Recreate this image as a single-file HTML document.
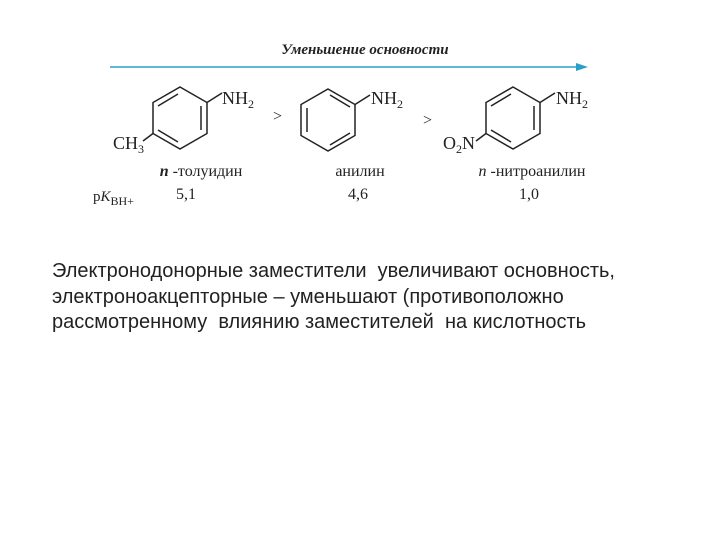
<!DOCTYPE html>
<html><head><meta charset="utf-8"><style>
html,body{margin:0;padding:0;background:#fff;width:720px;height:540px;overflow:hidden}
svg{position:absolute;left:0;top:0}
.p{position:absolute;left:52px;top:259px;font:20px "Liberation Sans",sans-serif;line-height:25.5px;color:#222;white-space:pre}
</style></head><body>
<svg width="720" height="540" viewBox="0 0 720 540" font-family="Liberation Serif, serif" fill="#222">
<text x="365" y="54" text-anchor="middle" font-size="15" font-style="italic" font-weight="bold">Уменьшение основности</text>
<line x1="110" y1="67" x2="578" y2="67" stroke="#2aa0c8" stroke-width="1.5"/>
<polygon points="588,67 576,63 576,71" fill="#2aa0c8"/>
<g stroke="#222" stroke-width="1.5" fill="none">
<polygon points="180,87 207,102.5 207,133.5 180,149 153,133.5 153,102.5"/>
<line x1="158" y1="106" x2="178" y2="94"/><line x1="201" y1="106" x2="201" y2="130"/><line x1="158" y1="130" x2="178" y2="142"/>
<line x1="207" y1="102.5" x2="222" y2="93"/><line x1="153" y1="133.5" x2="143" y2="141"/>
<polygon points="328,89 355,104.5 355,135.5 328,151 301,135.5 301,104.5"/>
<line x1="307" y1="108" x2="307" y2="132"/><line x1="330" y1="145" x2="350" y2="133"/><line x1="330" y1="95" x2="350" y2="107"/>
<line x1="355" y1="104.5" x2="370" y2="95"/>
<polygon points="513,87 540,102.5 540,133.5 513,149 486,133.5 486,102.5"/>
<line x1="491" y1="106" x2="511" y2="94"/><line x1="534" y1="106" x2="534" y2="130"/><line x1="491" y1="130" x2="511" y2="142"/>
<line x1="540" y1="102.5" x2="555" y2="93"/><line x1="486" y1="133.5" x2="476" y2="141"/>
</g>
<g font-size="18">
<text x="222" y="104">NH<tspan font-size="12" dy="4">2</tspan></text>
<text x="113" y="149">CH<tspan font-size="12" dy="4">3</tspan></text>
<text x="371" y="104">NH<tspan font-size="12" dy="4">2</tspan></text>
<text x="556" y="104">NH<tspan font-size="12" dy="4">2</tspan></text>
<text x="443" y="149">O<tspan font-size="12" dy="4">2</tspan><tspan dy="-4">N</tspan></text>
<text x="273" y="121" font-size="16">&gt;</text>
<text x="423" y="125" font-size="16">&gt;</text>
</g>
<g font-size="16" text-anchor="middle">
<text x="201" y="176"><tspan font-style="italic" font-weight="bold">n</tspan> -толуидин</text>
<text x="360" y="176">анилин</text>
<text x="532" y="176"><tspan font-style="italic">n</tspan> -нитроанилин</text>
<text x="186" y="199">5,1</text>
<text x="358" y="199">4,6</text>
<text x="529" y="199">1,0</text>
</g>
<text x="93" y="201" font-size="15">p<tspan font-style="italic">K</tspan><tspan font-size="12" dy="4">BH+</tspan></text>
</svg>
<div class="p">Электронодонорные заместители  увеличивают основность,
электроноакцепторные – уменьшают (противоположно
рассмотренному  влиянию заместителей  на кислотность</div>
</body></html>
